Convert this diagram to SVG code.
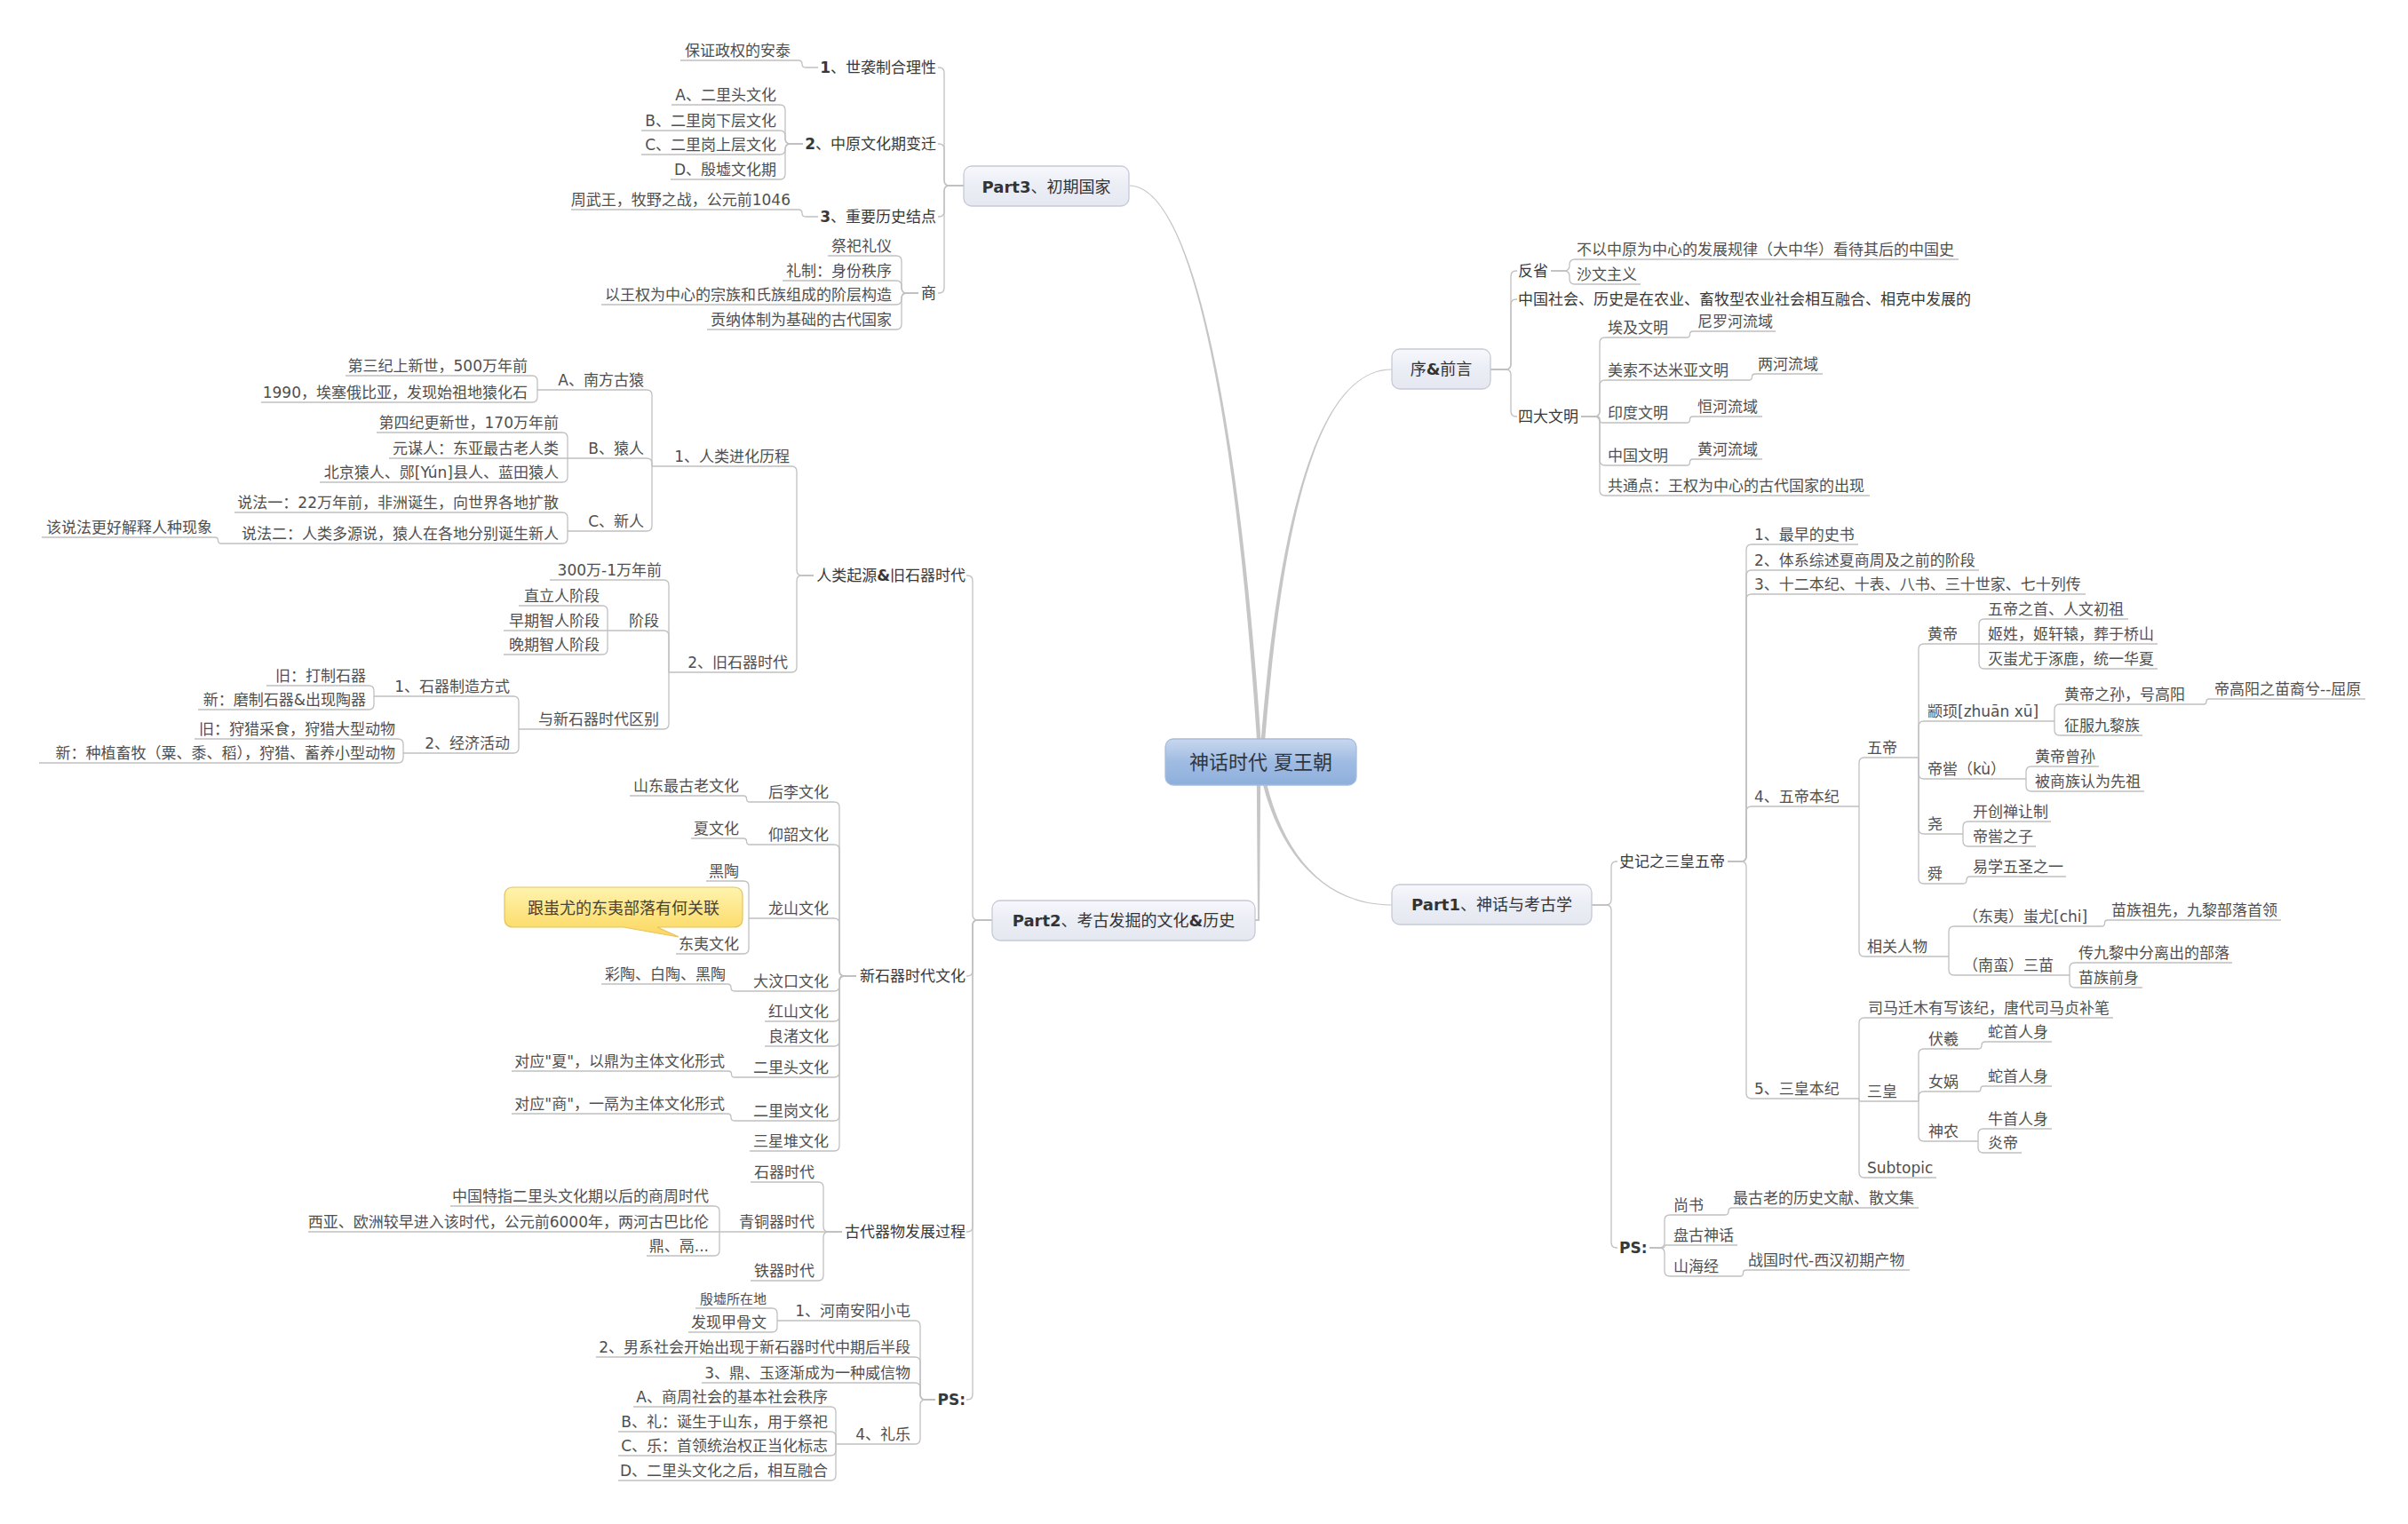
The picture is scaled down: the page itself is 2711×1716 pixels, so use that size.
<svg xmlns="http://www.w3.org/2000/svg" width="2711" height="1716" viewBox="0 0 2711 1716">
<defs>
<linearGradient id="gMain" x1="0" y1="0" x2="0" y2="1"><stop offset="0" stop-color="#f7f8fc"/><stop offset="0.45" stop-color="#eceef6"/><stop offset="1" stop-color="#e6e8f1"/></linearGradient>
<linearGradient id="gRoot" x1="0" y1="0" x2="0" y2="1"><stop offset="0" stop-color="#c8d8ee"/><stop offset="0.5" stop-color="#9fbbe2"/><stop offset="1" stop-color="#8eafdc"/></linearGradient>
<linearGradient id="gCall" x1="0" y1="0" x2="0" y2="1"><stop offset="0" stop-color="#fff3ad"/><stop offset="1" stop-color="#fbd75e"/></linearGradient>
<style>
.t{font-family:"DejaVu Sans","Noto Sans CJK SC",sans-serif;font-size:17px;fill:#4f4f4f}
.e{text-anchor:end}
.m{text-anchor:middle}
.l2{fill:#383838}
.l1{font-size:18px;fill:#333}
.b{font-weight:bold}
.sm{font-size:15px}
.c{fill:none;stroke:#c0c0c0;stroke-width:1.3}
.box{fill:url(#gMain);stroke:#c6c9d7;stroke-width:1.3}
.tap{fill:#c6c6c6}
</style>
</defs>
<rect width="2711" height="1716" fill="#ffffff"/>

<g id="connectors">
<!-- root tapered -->
<path class="tap" d="M1415.75,845 C1397.75,560 1354.6,212.8 1272,209.5 L1272,208.5 C1355.4,211.2 1402.25,560 1420.25,845 Z"/>
<path class="tap" d="M1418.75,845 C1437.75,600 1480,415.4 1567,415.5 L1567,416.5 C1480,416.6 1442.25,600 1423.25,845 Z"/>
<path class="tap" d="M1423.25,870 C1442.25,960 1490,1018.4 1567,1018.5 L1567,1019.5 C1490,1019.6 1437.75,960 1418.75,870 Z"/>
<path class="tap" d="M1414.75,870 L1419.25,870 L1418,1037 L1413,1037 L1413,1035 L1416,1035 Z"/>

<!-- Part3 -->
<path class="c" d="M1085,209 H1069 Q1063,209 1063,203 V82 Q1063,76 1057,76 H1056"/>
<path class="c" d="M1085,209 H1069 Q1063,209 1063,203 V168 Q1063,162 1057,162 H1056"/>
<path class="c" d="M1085,209 H1069 Q1063,209 1063,215 V238 Q1063,244 1057,244 H1056"/>
<path class="c" d="M1085,209 H1069 Q1063,209 1063,215 V324 Q1063,330 1057,330 H1056"/>
<path class="c" d="M921,76 H907 Q903,76 903,72 Q903,68 899,68 H766"/>
<path class="c" d="M904,162 H890 Q884,162 884,156 V124 Q884,118 878,118 H756"/>
<path class="c" d="M904,162 H890 Q884,162 884,156 V153 Q884,147 878,147 H722"/>
<path class="c" d="M904,162 H890 Q884,162 884,168 Q884,174 878,174 H722"/>
<path class="c" d="M904,162 H890 Q884,162 884,168 V196 Q884,202 878,202 H755"/>
<path class="c" d="M921,244 H907 Q903,244 903,240 Q903,236 899,236 H643"/>
<path class="c" d="M1034,330 H1021 Q1015,330 1015,324 V294 Q1015,288 1009,288 H932"/>
<path class="c" d="M1034,330 H1021 Q1015,330 1015,324 V322 Q1015,316 1009,316 H881"/>
<path class="c" d="M1034,330 H1021 Q1015,330 1015,336 V337 Q1015,343 1009,343 H677"/>
<path class="c" d="M1034,330 H1021 Q1015,330 1015,336 V365 Q1015,371 1009,371 H796"/>

<!-- 序&前言 -->
<path class="c" d="M1678,416 H1695 Q1701,416 1701,410 V311 Q1701,305 1707,305 H1708"/>
<path class="c" d="M1678,416 H1695 Q1701,416 1701,410 V343 Q1701,337 1707,337 H1708"/>
<path class="c" d="M1678,416 H1695 Q1701,416 1701,422 V463 Q1701,469 1707,469 H1708"/>
<path class="c" d="M1746,305 H1761 Q1767,305 1767,299 V298 Q1767,292 1773,292 H2205"/>
<path class="c" d="M1746,305 H1761 Q1767,305 1767,311 V314 Q1767,320 1773,320 H1847"/>
<path class="c" d="M1780,469 H1795 Q1801,469 1801,463 V386 Q1801,380 1807,380 H1899"/>
<path class="c" d="M1780,469 H1795 Q1801,469 1801,463 V434 Q1801,428 1807,428 H1969"/>
<path class="c" d="M1780,469 H1797.5 Q1801,469 1801,472.5 Q1801,476 1804.5,476 H1899"/>
<path class="c" d="M1780,469 H1795 Q1801,469 1801,475 V518 Q1801,524 1807,524 H1899"/>
<path class="c" d="M1780,469 H1795 Q1801,469 1801,475 V552 Q1801,558 1807,558 H2105"/>
<path class="c" d="M1899,380 Q1902.5,380 1902.5,376.5 Q1902.5,373 1906,373 H1999"/>
<path class="c" d="M1969,428 Q1972.5,428 1972.5,424.5 Q1972.5,421 1976,421 H2052"/>
<path class="c" d="M1899,476 Q1902.5,476 1902.5,472.5 Q1902.5,469 1906,469 H1984"/>
<path class="c" d="M1899,524 Q1902.5,524 1902.5,520.5 Q1902.5,517 1906,517 H1984"/>

<!-- Part1 -->
<path class="c" d="M1792,1019 H1808 Q1814,1019 1814,1013 V976 Q1814,970 1820,970 H1821"/>
<path class="c" d="M1792,1019 H1808 Q1814,1019 1814,1025 V1399 Q1814,1405 1820,1405 H1821"/>
<path class="c" d="M1945,970 H1960 Q1966,970 1966,964 V619 Q1966,613 1972,613 H2092"/>
<path class="c" d="M1945,970 H1960 Q1966,970 1966,964 V648 Q1966,642 1972,642 H2228"/>
<path class="c" d="M1945,970 H1960 Q1966,970 1966,964 V675 Q1966,669 1972,669 H2348"/>
<path class="c" d="M1945,970 H1960 Q1966,970 1966,964 V914 Q1966,908 1972,908 H2093"/>
<path class="c" d="M1945,970 H1960 Q1966,970 1966,976 V1231 Q1966,1237 1972,1237 H2093"/>
<path class="c" d="M2093,908 V859 Q2093,853 2099,853 H2160"/>
<path class="c" d="M2093,908 V1071 Q2093,1077 2099,1077 H2194"/>
<path class="c" d="M2160,853 V731 Q2160,725 2166,725 H2228"/>
<path class="c" d="M2160,853 V818 Q2160,812 2166,812 H2313"/>
<path class="c" d="M2160,853 V871 Q2160,877 2166,877 H2281"/>
<path class="c" d="M2160,853 V933 Q2160,939 2166,939 H2210"/>
<path class="c" d="M2160,853 V989 Q2160,995 2166,995 H2210"/>
<path class="c" d="M2228,725 V703 Q2228,697 2234,697 H2396"/>
<path class="c" d="M2228,725 H2429"/>
<path class="c" d="M2228,725 V747 Q2228,753 2234,753 H2429"/>
<path class="c" d="M2313,812 V799 Q2313,793 2319,793 H2481"/>
<path class="c" d="M2313,812 V822 Q2313,828 2319,828 H2412"/>
<path class="c" d="M2481,793 Q2484,793 2484,790 Q2484,787 2487,787 H2663"/>
<path class="c" d="M2281,877 V869 Q2281,863 2287,863 H2363"/>
<path class="c" d="M2281,877 V885 Q2281,891 2287,891 H2414"/>
<path class="c" d="M2210,939 V931 Q2210,925 2216,925 H2309"/>
<path class="c" d="M2210,939 V947 Q2210,953 2216,953 H2292"/>
<path class="c" d="M2210,995 Q2214,995 2214,991 Q2214,987 2218,987 H2326"/>
<path class="c" d="M2194,1077 V1049 Q2194,1043 2200,1043 H2366"/>
<path class="c" d="M2194,1077 V1092 Q2194,1098 2200,1098 H2330"/>
<path class="c" d="M2366,1043 Q2369.5,1043 2369.5,1039.5 Q2369.5,1036 2373,1036 H2568"/>
<path class="c" d="M2330,1098 V1090 Q2330,1084 2336,1084 H2513"/>
<path class="c" d="M2330,1098 V1106 Q2330,1112 2336,1112 H2412"/>
<path class="c" d="M2093,1237 V1152 Q2093,1146 2099,1146 H2379"/>
<path class="c" d="M2093,1237 V1238.5 Q2093,1240 2094.5,1240 H2160"/>
<path class="c" d="M2093,1237 V1320 Q2093,1326 2099,1326 H2180"/>
<path class="c" d="M2160,1240 V1187 Q2160,1181 2166,1181 H2227"/>
<path class="c" d="M2160,1240 V1235 Q2160,1229 2166,1229 H2227"/>
<path class="c" d="M2160,1240 V1279 Q2160,1285 2166,1285 H2227"/>
<path class="c" d="M2227,1181 Q2231,1181 2231,1177 Q2231,1173 2235,1173 H2310"/>
<path class="c" d="M2227,1229 Q2230,1229 2230,1226 Q2230,1223 2233,1223 H2310"/>
<path class="c" d="M2227,1285 V1277 Q2227,1271 2233,1271 H2310"/>
<path class="c" d="M2227,1285 V1292 Q2227,1298 2233,1298 H2276"/>
<path class="c" d="M1857,1405 H1868 Q1874,1405 1874,1399 V1374 Q1874,1368 1880,1368 H1942"/>
<path class="c" d="M1857,1405 H1872.5 Q1874,1405 1874,1403.5 Q1874,1402 1875.5,1402 H1956"/>
<path class="c" d="M1857,1405 H1868 Q1874,1405 1874,1411 V1431 Q1874,1437 1880,1437 H1959"/>
<path class="c" d="M1942,1368 Q1946,1368 1946,1364 Q1946,1360 1950,1360 H2160"/>
<path class="c" d="M1959,1437 Q1962.5,1437 1962.5,1433.5 Q1962.5,1430 1966,1430 H2150"/>

<!-- Part2 -->
<path class="c" d="M1117,1036 H1101 Q1095,1036 1095,1030 V654 Q1095,648 1089,648 H1088"/>
<path class="c" d="M1117,1036 H1101 Q1095,1036 1095,1042 V1093 Q1095,1099 1089,1099 H1088"/>
<path class="c" d="M1117,1036 H1101 Q1095,1036 1095,1042 V1381 Q1095,1387 1089,1387 H1088"/>
<path class="c" d="M1117,1036 H1101 Q1095,1036 1095,1042 V1570 Q1095,1576 1089,1576 H1088"/>
<path class="c" d="M916,648 H903 Q897,648 897,642 V531 Q897,525 891,525 H734"/>
<path class="c" d="M916,648 H903 Q897,648 897,654 V751 Q897,757 891,757 H753"/>
<path class="c" d="M734,525 V445 Q734,439 728,439 H605"/>
<path class="c" d="M734,525 V522 Q734,516 728,516 H639"/>
<path class="c" d="M734,525 V592 Q734,598 728,598 H639"/>
<path class="c" d="M605,439 V429 Q605,423 599,423 H389"/>
<path class="c" d="M605,439 V447 Q605,453 599,453 H294"/>
<path class="c" d="M639,516 V493 Q639,487 633,487 H424"/>
<path class="c" d="M639,516 H438"/>
<path class="c" d="M639,516 V537 Q639,543 633,543 H360"/>
<path class="c" d="M639,598 V583 Q639,577 633,577 H264"/>
<path class="c" d="M639,598 V606 Q639,612 633,612 H249"/>
<path class="c" d="M249,612 Q245.5,612 245.5,608.5 Q245.5,605 242,605 H47"/>
<path class="c" d="M753,757 V659 Q753,653 747,653 H619"/>
<path class="c" d="M753,757 V716 Q753,710 747,710 H684"/>
<path class="c" d="M753,757 V815 Q753,821 747,821 H584"/>
<path class="c" d="M684,710 V688 Q684,682 678,682 H584"/>
<path class="c" d="M684,710 H567"/>
<path class="c" d="M684,710 V731 Q684,737 678,737 H567"/>
<path class="c" d="M584,821 V790 Q584,784 578,784 H421"/>
<path class="c" d="M584,821 V842 Q584,848 578,848 H454"/>
<path class="c" d="M421,784 V778 Q421,772 415,772 H300"/>
<path class="c" d="M421,784 V793 Q421,799 415,799 H223"/>
<path class="c" d="M454,848 V838 Q454,832 448,832 H219"/>
<path class="c" d="M454,848 V853 Q454,859 448,859 H44"/>
<path class="c" d="M964,1099 H951 Q945,1099 945,1093 V909 Q945,903 939,903 H844"/>
<path class="c" d="M964,1099 H951 Q945,1099 945,1093 V957 Q945,951 939,951 H844"/>
<path class="c" d="M964,1099 H951 Q945,1099 945,1093 V1040 Q945,1034 939,1034 H843"/>
<path class="c" d="M964,1099 H951 Q945,1099 945,1105 V1110 Q945,1116 939,1116 H827"/>
<path class="c" d="M964,1099 H951 Q945,1099 945,1105 V1144 Q945,1150 939,1150 H861"/>
<path class="c" d="M964,1099 H951 Q945,1099 945,1105 V1172 Q945,1178 939,1178 H861"/>
<path class="c" d="M964,1099 H951 Q945,1099 945,1105 V1207 Q945,1213 939,1213 H827"/>
<path class="c" d="M964,1099 H951 Q945,1099 945,1105 V1256 Q945,1262 939,1262 H827"/>
<path class="c" d="M964,1099 H951 Q945,1099 945,1105 V1290 Q945,1296 939,1296 H844"/>
<path class="c" d="M844,903 Q840.5,903 840.5,899.5 Q840.5,896 837,896 H709"/>
<path class="c" d="M844,951 Q840.5,951 840.5,947.5 Q840.5,944 837,944 H778"/>
<path class="c" d="M843,1034 V998 Q843,992 837,992 H795"/>
<path class="c" d="M843,1034 V1068 Q843,1074 837,1074 H761"/>
<path class="c" d="M827,1116 Q823,1116 823,1112 Q823,1108 819,1108 H677"/>
<path class="c" d="M827,1213 Q823.5,1213 823.5,1209.5 Q823.5,1206 820,1206 H576"/>
<path class="c" d="M827,1262 Q823,1262 823,1258 Q823,1254 819,1254 H576"/>
<path class="c" d="M948,1387 H933 Q927,1387 927,1381 V1337 Q927,1331 921,1331 H845"/>
<path class="c" d="M948,1387 H810"/>
<path class="c" d="M948,1387 H933 Q927,1387 927,1393 V1436 Q927,1442 921,1442 H845"/>
<path class="c" d="M810,1387 V1364 Q810,1358 804,1358 H507"/>
<path class="c" d="M810,1387 H347"/>
<path class="c" d="M810,1387 V1408 Q810,1414 804,1414 H728"/>
<path class="c" d="M1053,1576 H1042 Q1036,1576 1036,1570 V1493 Q1036,1487 1030,1487 H875"/>
<path class="c" d="M1053,1576 H1042 Q1036,1576 1036,1570 V1534 Q1036,1528 1030,1528 H671"/>
<path class="c" d="M1053,1576 H1042 Q1036,1576 1036,1570 V1563 Q1036,1557 1030,1557 H790"/>
<path class="c" d="M1053,1576 H1042 Q1036,1576 1036,1582 V1620 Q1036,1626 1030,1626 H941"/>
<path class="c" d="M875,1487 V1479 Q875,1473 869,1473 H783"/>
<path class="c" d="M875,1487 V1494 Q875,1500 869,1500 H775"/>
<path class="c" d="M941,1626 V1590 Q941,1584 935,1584 H713"/>
<path class="c" d="M941,1626 V1618 Q941,1612 935,1612 H696"/>
<path class="c" d="M941,1626 V1633 Q941,1639 935,1639 H696"/>
<path class="c" d="M941,1626 V1661 Q941,1667 935,1667 H696"/>
</g>

<g id="root">
<rect x="1312" y="832" width="215" height="52" rx="9" fill="url(#gRoot)" stroke="#a7bcdc" stroke-width="1.3"/>
<text class="t m" x="1419.5" y="866" style="font-size:22px;fill:#2f3640">神话时代 夏王朝</text>
</g>

<g id="part3">
<rect class="box" x="1085" y="187" width="186" height="45" rx="9"/>
<text class="t m l1" x="1178" y="216.5"><tspan class="b">Part3</tspan>、初期国家</text>
</g>
<g id="p3-1"><text class="t e l2" x="1054" y="82"><tspan class="b">1</tspan>、世袭制合理性</text></g>
<g id="p3-1a"><text class="t e" x="890" y="63">保证政权的安泰</text></g>
<g id="p3-2"><text class="t e l2" x="1054" y="168"><tspan class="b">2</tspan>、中原文化期变迁</text></g>
<g id="p3-2a"><text class="t e" x="874" y="113">A、二里头文化</text></g>
<g id="p3-2b"><text class="t e" x="874" y="142">B、二里岗下层文化</text></g>
<g id="p3-2c"><text class="t e" x="874" y="169">C、二里岗上层文化</text></g>
<g id="p3-2d"><text class="t e" x="874" y="197">D、殷墟文化期</text></g>
<g id="p3-3"><text class="t e l2" x="1054" y="250"><tspan class="b">3</tspan>、重要历史结点</text></g>
<g id="p3-3a"><text class="t e" x="890" y="231">周武王，牧野之战，公元前1046</text></g>
<g id="p3-4"><text class="t e l2" x="1054" y="336">商</text></g>
<g id="p3-4a"><text class="t e" x="1004" y="283">祭祀礼仪</text></g>
<g id="p3-4b"><text class="t e" x="1004" y="311">礼制：身份秩序</text></g>
<g id="p3-4c"><text class="t e" x="1004" y="338">以王权为中心的宗族和氏族组成的阶层构造</text></g>
<g id="p3-4d"><text class="t e" x="1004" y="366">贡纳体制为基础的古代国家</text></g>

<g id="preface">
<rect class="box" x="1567" y="393" width="111" height="45" rx="9"/>
<text class="t m l1" x="1622.5" y="421.5">序<tspan class="b">&amp;</tspan>前言</text>
</g>
<g id="pf-1"><text class="t l2" x="1709" y="311">反省</text></g>
<g id="pf-1a"><text class="t" x="1775" y="287">不以中原为中心的发展规律（大中华）看待其后的中国史</text></g>
<g id="pf-1b"><text class="t" x="1775" y="315">沙文主义</text></g>
<g id="pf-2"><text class="t l2" x="1709" y="343">中国社会、历史是在农业、畜牧型农业社会相互融合、相克中发展的</text></g>
<g id="pf-3"><text class="t l2" x="1709" y="475">四大文明</text></g>
<g id="pf-3a"><text class="t" x="1810" y="375">埃及文明</text></g>
<g id="pf-3a1"><text class="t" x="1911" y="368">尼罗河流域</text></g>
<g id="pf-3b"><text class="t" x="1810" y="423">美索不达米亚文明</text></g>
<g id="pf-3b1"><text class="t" x="1979" y="416">两河流域</text></g>
<g id="pf-3c"><text class="t" x="1810" y="471">印度文明</text></g>
<g id="pf-3c1"><text class="t" x="1911" y="464">恒河流域</text></g>
<g id="pf-3d"><text class="t" x="1810" y="519">中国文明</text></g>
<g id="pf-3d1"><text class="t" x="1911" y="512">黄河流域</text></g>
<g id="pf-3e"><text class="t" x="1810" y="553">共通点：王权为中心的古代国家的出现</text></g>

<g id="part1">
<rect class="box" x="1567" y="996" width="225" height="45" rx="9"/>
<text class="t m l1" x="1679.5" y="1025"><tspan class="b">Part1</tspan>、神话与考古学</text>
</g>
<g id="p1-1"><text class="t l2" x="1823" y="976">史记之三皇五帝</text></g>
<g id="p1-1a"><text class="t" x="1975" y="608">1、最早的史书</text></g>
<g id="p1-1b"><text class="t" x="1975" y="637">2、体系综述夏商周及之前的阶段</text></g>
<g id="p1-1c"><text class="t" x="1975" y="664">3、十二本纪、十表、八书、三十世家、七十列传</text></g>
<g id="p1-1d"><text class="t" x="1975" y="903">4、五帝本纪</text></g>
<g id="wudi"><text class="t" x="2102" y="848">五帝</text></g>
<g id="huangdi"><text class="t" x="2170" y="720">黄帝</text></g>
<g id="hd-1"><text class="t" x="2238" y="692">五帝之首、人文初祖</text></g>
<g id="hd-2"><text class="t" x="2238" y="720">姬姓，姬轩辕，葬于桥山</text></g>
<g id="hd-3"><text class="t" x="2238" y="748">灭蚩尤于涿鹿，统一华夏</text></g>
<g id="zhuanxu"><text class="t" x="2170" y="807">颛顼[zhuān xū]</text></g>
<g id="zx-1"><text class="t" x="2324" y="788">黄帝之孙，号高阳</text></g>
<g id="zx-1a"><text class="t" x="2493" y="782">帝高阳之苗裔兮--屈原</text></g>
<g id="zx-2"><text class="t" x="2324" y="823">征服九黎族</text></g>
<g id="diku"><text class="t" x="2170" y="872">帝喾（kù）</text></g>
<g id="dk-1"><text class="t" x="2291" y="858">黄帝曾孙</text></g>
<g id="dk-2"><text class="t" x="2291" y="886">被商族认为先祖</text></g>
<g id="yao"><text class="t" x="2170" y="934">尧</text></g>
<g id="yao-1"><text class="t" x="2221" y="920">开创禅让制</text></g>
<g id="yao-2"><text class="t" x="2221" y="948">帝喾之子</text></g>
<g id="shun"><text class="t" x="2170" y="990">舜</text></g>
<g id="shun-1"><text class="t" x="2221" y="982">易学五圣之一</text></g>
<g id="xgrw"><text class="t" x="2102" y="1072">相关人物</text></g>
<g id="chiyou"><text class="t" x="2210" y="1038">（东夷）蚩尤[chi]</text></g>
<g id="chiyou-1"><text class="t" x="2377" y="1031">苗族祖先，九黎部落首领</text></g>
<g id="sanmiao"><text class="t" x="2210" y="1093">（南蛮）三苗</text></g>
<g id="sm-1"><text class="t" x="2340" y="1079">传九黎中分离出的部落</text></g>
<g id="sm-2"><text class="t" x="2340" y="1107">苗族前身</text></g>
<g id="p1-1e"><text class="t" x="1975" y="1232">5、三皇本纪</text></g>
<g id="sh-1"><text class="t" x="2103" y="1141">司马迁木有写该纪，唐代司马贞补笔</text></g>
<g id="sanhuang"><text class="t" x="2102" y="1235">三皇</text></g>
<g id="fuxi"><text class="t" x="2171" y="1176">伏羲</text></g>
<g id="fuxi-1"><text class="t" x="2238" y="1168">蛇首人身</text></g>
<g id="nvwa"><text class="t" x="2171" y="1224">女娲</text></g>
<g id="nvwa-1"><text class="t" x="2238" y="1218">蛇首人身</text></g>
<g id="shennong"><text class="t" x="2171" y="1280">神农</text></g>
<g id="sn-1"><text class="t" x="2238" y="1266">牛首人身</text></g>
<g id="sn-2"><text class="t" x="2238" y="1293">炎帝</text></g>
<g id="subtopic"><text class="t" x="2102" y="1321">Subtopic</text></g>
<g id="p1-ps"><text class="t l2 b" x="1823" y="1411">PS:</text></g>
<g id="shangshu"><text class="t" x="1884" y="1363">尚书</text></g>
<g id="shangshu-1"><text class="t" x="1951" y="1355">最古老的历史文献、散文集</text></g>
<g id="pangu"><text class="t" x="1884" y="1397">盘古神话</text></g>
<g id="shj"><text class="t" x="1884" y="1432">山海经</text></g>
<g id="shj-1"><text class="t" x="1968" y="1425">战国时代-西汉初期产物</text></g>

<g id="part2">
<rect class="box" x="1117" y="1014" width="296" height="45" rx="9"/>
<text class="t m l1" x="1265" y="1043"><tspan class="b">Part2</tspan>、考古发掘的文化<tspan class="b">&amp;</tspan>历史</text>
</g>
<g id="p2-1"><text class="t e l2" x="1087" y="654">人类起源<tspan class="b">&amp;</tspan>旧石器时代</text></g>
<g id="evo"><text class="t e" x="889" y="520">1、人类进化历程</text></g>
<g id="evo-a"><text class="t e" x="725" y="434">A、南方古猿</text></g>
<g id="evo-a1"><text class="t e" x="594" y="418">第三纪上新世，500万年前</text></g>
<g id="evo-a2"><text class="t e" x="594" y="448">1990，埃塞俄比亚，发现始祖地猿化石</text></g>
<g id="evo-b"><text class="t e" x="725" y="511">B、猿人</text></g>
<g id="evo-b1"><text class="t e" x="629" y="482">第四纪更新世，170万年前</text></g>
<g id="evo-b2"><text class="t e" x="629" y="511">元谋人：东亚最古老人类</text></g>
<g id="evo-b3"><text class="t e" x="629" y="538">北京猿人、郧[Yún]县人、蓝田猿人</text></g>
<g id="evo-c"><text class="t e" x="725" y="593">C、新人</text></g>
<g id="evo-c1"><text class="t e" x="629" y="572">说法一：22万年前，非洲诞生，向世界各地扩散</text></g>
<g id="evo-c2"><text class="t e" x="629" y="607">说法二：人类多源说，猿人在各地分别诞生新人</text></g>
<g id="evo-c2a"><text class="t e" x="239" y="600">该说法更好解释人种现象</text></g>
<g id="paleo"><text class="t e" x="887" y="752">2、旧石器时代</text></g>
<g id="paleo-1"><text class="t e" x="745" y="648">300万-1万年前</text></g>
<g id="paleo-2"><text class="t e" x="742" y="705">阶段</text></g>
<g id="st-1"><text class="t e" x="675" y="677">直立人阶段</text></g>
<g id="st-2"><text class="t e" x="675" y="705">早期智人阶段</text></g>
<g id="st-3"><text class="t e" x="675" y="732">晚期智人阶段</text></g>
<g id="paleo-3"><text class="t e" x="742" y="816">与新石器时代区别</text></g>
<g id="df-1"><text class="t e" x="574" y="779">1、石器制造方式</text></g>
<g id="df-1a"><text class="t e" x="412" y="767">旧：打制石器</text></g>
<g id="df-1b"><text class="t e" x="412" y="794">新：磨制石器&amp;出现陶器</text></g>
<g id="df-2"><text class="t e" x="574" y="843">2、经济活动</text></g>
<g id="df-2a"><text class="t e" x="445" y="827">旧：狩猎采食，狩猎大型动物</text></g>
<g id="df-2b"><text class="t e" x="445" y="854">新：种植畜牧（粟、黍、稻），狩猎、蓄养小型动物</text></g>
<g id="p2-2"><text class="t e l2" x="1087" y="1105">新石器时代文化</text></g>
<g id="houli"><text class="t e" x="933" y="898">后李文化</text></g>
<g id="houli-1"><text class="t e" x="832" y="891">山东最古老文化</text></g>
<g id="yangshao"><text class="t e" x="933" y="946">仰韶文化</text></g>
<g id="yangshao-1"><text class="t e" x="832" y="939">夏文化</text></g>
<g id="longshan"><text class="t e" x="933" y="1029">龙山文化</text></g>
<g id="ls-1"><text class="t e" x="832" y="987">黑陶</text></g>
<g id="ls-2"><text class="t e" x="832" y="1069">东夷文化</text></g>
<g id="callout">
<path d="M578,999 H826 Q836,999 836,1009 V1034 Q836,1044 826,1044 H740 L764,1055 L702,1044 H578 Q568,1044 568,1034 V1009 Q568,999 578,999 Z" fill="url(#gCall)" stroke="#e6c35c" stroke-width="1.2"/>
<text class="t m" x="702" y="1028.5" style="font-size:18px;fill:#4a4230">跟蚩尤的东夷部落有何关联</text>
</g>
<g id="dawenkou"><text class="t e" x="933" y="1111">大汶口文化</text></g>
<g id="dwk-1"><text class="t e" x="817" y="1103">彩陶、白陶、黑陶</text></g>
<g id="hongshan"><text class="t e" x="933" y="1145">红山文化</text></g>
<g id="liangzhu"><text class="t e" x="933" y="1173">良渚文化</text></g>
<g id="erlitou"><text class="t e" x="933" y="1208">二里头文化</text></g>
<g id="elt-1"><text class="t e" x="816" y="1201">对应"夏"，以鼎为主体文化形式</text></g>
<g id="erligang"><text class="t e" x="933" y="1257">二里岗文化</text></g>
<g id="elg-1"><text class="t e" x="816" y="1249">对应"商"，一鬲为主体文化形式</text></g>
<g id="sanxingdui"><text class="t e" x="933" y="1291">三星堆文化</text></g>
<g id="p2-3"><text class="t e l2" x="1087" y="1393">古代器物发展过程</text></g>
<g id="stone"><text class="t e" x="917" y="1326">石器时代</text></g>
<g id="bronze"><text class="t e" x="917" y="1382">青铜器时代</text></g>
<g id="br-1"><text class="t e" x="798" y="1353">中国特指二里头文化期以后的商周时代</text></g>
<g id="br-2"><text class="t e" x="798" y="1382">西亚、欧洲较早进入该时代，公元前6000年，两河古巴比伦</text></g>
<g id="br-3"><text class="t e" x="798" y="1409">鼎、鬲...</text></g>
<g id="iron"><text class="t e" x="917" y="1437">铁器时代</text></g>
<g id="p2-4"><text class="t e l2 b" x="1087" y="1582">PS:</text></g>
<g id="ps-1"><text class="t e" x="1025" y="1482">1、河南安阳小屯</text></g>
<g id="ps-1a"><text class="t e sm" x="863" y="1468">殷墟所在地</text></g>
<g id="ps-1b"><text class="t e" x="863" y="1495">发现甲骨文</text></g>
<g id="ps-2"><text class="t e" x="1025" y="1523">2、男系社会开始出现于新石器时代中期后半段</text></g>
<g id="ps-3"><text class="t e" x="1025" y="1552">3、鼎、玉逐渐成为一种威信物</text></g>
<g id="ps-4"><text class="t e" x="1025" y="1621">4、礼乐</text></g>
<g id="ps-4a"><text class="t e" x="932" y="1579">A、商周社会的基本社会秩序</text></g>
<g id="ps-4b"><text class="t e" x="932" y="1607">B、礼：诞生于山东，用于祭祀</text></g>
<g id="ps-4c"><text class="t e" x="932" y="1634">C、乐：首领统治权正当化标志</text></g>
<g id="ps-4d"><text class="t e" x="932" y="1662">D、二里头文化之后，相互融合</text></g>
</svg>
